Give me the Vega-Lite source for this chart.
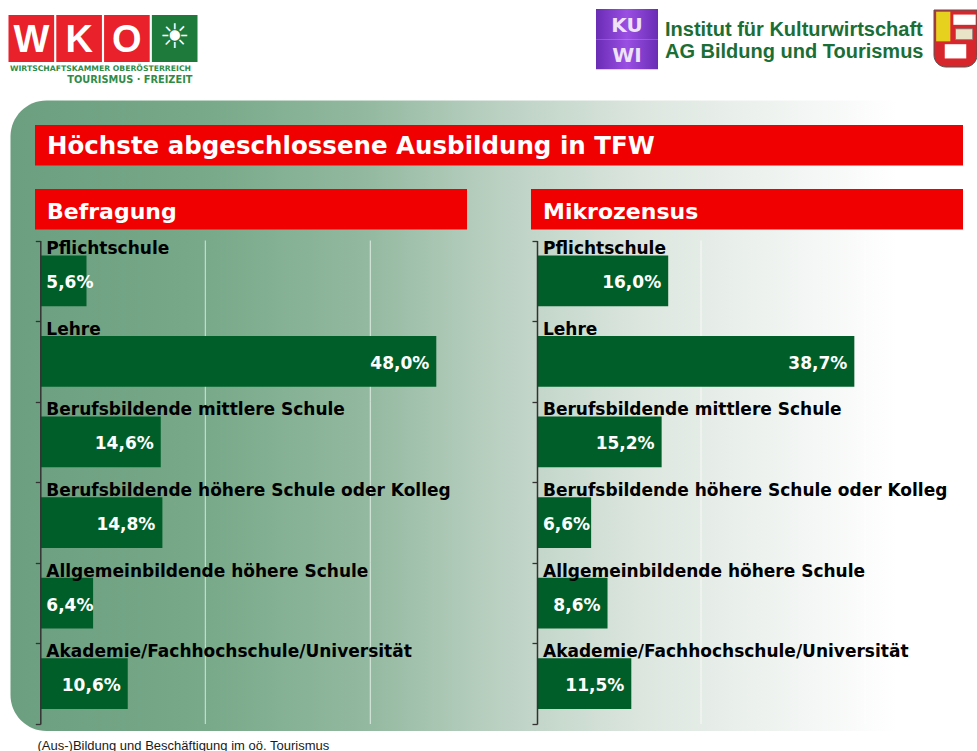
{
  "$schema": "https://vega.github.io/schema/vega-lite/v6.json",
  "width": 977,
  "height": 751,
  "padding": 0,
  "autosize": {"type": "none"},
  "background": "#ffffff",
  "config": {
    "view": {"stroke": null},
    "locale": {"number": {"decimal": ",", "thousands": ".", "grouping": [3], "currency": ["", " €"]}}
  },
  "datasets": {
    "edu": [
      {"panel": "Befragung", "category": "Pflichtschule", "value": 0.056},
      {"panel": "Befragung", "category": "Lehre", "value": 0.48},
      {"panel": "Befragung", "category": "Berufsbildende mittlere Schule", "value": 0.146},
      {"panel": "Befragung", "category": "Berufsbildende höhere Schule oder Kolleg", "value": 0.148},
      {"panel": "Befragung", "category": "Allgemeinbildende höhere Schule", "value": 0.064},
      {"panel": "Befragung", "category": "Akademie/Fachhochschule/Universität", "value": 0.106},
      {"panel": "Mikrozensus", "category": "Pflichtschule", "value": 0.16},
      {"panel": "Mikrozensus", "category": "Lehre", "value": 0.387},
      {"panel": "Mikrozensus", "category": "Berufsbildende mittlere Schule", "value": 0.152},
      {"panel": "Mikrozensus", "category": "Berufsbildende höhere Schule oder Kolleg", "value": 0.066},
      {"panel": "Mikrozensus", "category": "Allgemeinbildende höhere Schule", "value": 0.086},
      {"panel": "Mikrozensus", "category": "Akademie/Fachhochschule/Universität", "value": 0.115}
    ]
  },
  "resolve": {"scale": {"x": "independent", "y": "independent", "color": "independent"}},
  "layer": [
    {
      "data": {"values": [{"part": "panel"}]},
      "mark": {"type": "rect", "cornerRadius": 36, "fill": {"gradient": "linear", "x1": 0, "y1": 0, "x2": 1, "y2": 0, "stops": [
        {"offset": 0, "color": "#6b9f7f"},
        {"offset": 0.2, "color": "#79aa8a"},
        {"offset": 0.35, "color": "#93b9a0"},
        {"offset": 0.47, "color": "#b8cfc0"},
        {"offset": 0.62, "color": "#dce6df"},
        {"offset": 0.78, "color": "#f3f6f4"},
        {"offset": 0.87, "color": "#ffffff"},
        {"offset": 1, "color": "#ffffff"}
      ]}},
      "encoding": {
        "x": {"datum": 0, "type": "quantitative", "scale": {"domain": [0, 1], "range": [10.5, 1030], "nice": false}, "axis": null},
        "x2": {"datum": 1},
        "y": {"datum": 0, "type": "quantitative", "scale": {"domain": [0, 1], "range": [100.5, 731], "nice": false}, "axis": null},
        "y2": {"datum": 1}
      }
    },
    {
      "data": {"values": [{"panel": "Befragung"}, {"panel": "Mikrozensus"}]},
      "layer": [
        {
          "mark": {"type": "rect", "color": "#f00000"},
          "encoding": {
            "x": {"field": "panel", "type": "nominal", "scale": {"type": "band", "range": [35, 963], "paddingInner": 0, "paddingOuter": 0}, "axis": null},
            "y": {"datum": "title", "type": "nominal", "scale": {"type": "band", "domain": ["title"], "range": [125, 165.5], "paddingInner": 0, "paddingOuter": 0}, "axis": null}
          }
        },
        {
          "data": {"values": [{"title": "Höchste abgeschlossene Ausbildung in TFW"}]},
          "mark": {"type": "text", "align": "left", "baseline": "alphabetic", "dx": 12, "dy": 9, "font": "DejaVu Sans", "fontWeight": "bold", "fontSize": 24.5, "color": "#ffffff"},
          "encoding": {
            "x": {"datum": "Befragung", "type": "nominal", "bandPosition": 0, "axis": null},
            "y": {"datum": "title", "type": "nominal", "axis": null},
            "text": {"field": "title"}
          }
        }
      ]
    },
    {
      "data": {"values": [{"panel": "Befragung"}, {"panel": "Mikrozensus"}]},
      "layer": [
        {
          "mark": {"type": "rect", "color": "#f00000"},
          "encoding": {
            "x": {"field": "panel", "type": "nominal", "scale": {"type": "band", "range": [35, 963], "paddingInner": 0.129, "paddingOuter": 0}, "axis": null},
            "y": {"datum": "header", "type": "nominal", "scale": {"type": "band", "domain": ["header"], "range": [189, 229.5], "paddingInner": 0, "paddingOuter": 0}, "axis": null}
          }
        },
        {
          "mark": {"type": "text", "align": "left", "baseline": "alphabetic", "dx": 12, "dy": 10, "font": "DejaVu Sans", "fontWeight": "bold", "fontSize": 22, "color": "#ffffff"},
          "encoding": {
            "x": {"field": "panel", "type": "nominal", "bandPosition": 0, "axis": null},
            "y": {"datum": "header", "type": "nominal", "axis": null},
            "text": {"field": "panel"}
          }
        }
      ]
    },
    {
      "data": {"name": "edu"},
      "transform": [{"filter": "datum.panel === 'Befragung'"}],
      "encoding": {
        "y": {"field": "category", "type": "nominal", "sort": null,
          "scale": {"domain": ["Pflichtschule", "Lehre", "Berufsbildende mittlere Schule", "Berufsbildende höhere Schule oder Kolleg", "Allgemeinbildende höhere Schule", "Akademie/Fachhochschule/Universität"], "range": [240.5, 724], "paddingInner": 0, "paddingOuter": 0},
          "axis": {"orient": "left", "offset": -40.3, "labels": false, "title": null, "grid": false, "tickBand": "extent", "ticks": true, "tickSize": 5, "tickWidth": 1.3, "tickColor": "#333333", "domain": true, "domainColor": "#333333", "domainWidth": 1.5, "zindex": 1}}
      },
      "layer": [
        {
          "mark": {"type": "tick", "color": "#ffffff", "thickness": 1, "size": 80.6},
          "encoding": {"x": {"datum": 0.2, "type": "quantitative", "axis": null}}
        },
        {
          "mark": {"type": "tick", "color": "#ffffff", "thickness": 1, "size": 80.6},
          "encoding": {"x": {"datum": 0.4, "type": "quantitative", "axis": null}}
        },
        {
          "mark": {"type": "bar", "color": "#005f29", "height": {"band": 0.63}},
          "encoding": {
            "x": {"field": "value", "type": "quantitative", "scale": {"domain": [0, 0.5], "range": [40.3, 452.8], "nice": false, "zero": true}, "axis": null}
          }
        },
        {
          "mark": {"type": "text", "align": "left", "baseline": "alphabetic", "dx": 6, "dy": -26.5, "font": "DejaVu Sans", "fontWeight": "bold", "fontSize": 17, "color": "#000000"},
          "encoding": {
            "x": {"datum": 0, "type": "quantitative", "axis": null},
            "text": {"field": "category"}
          }
        },
        {
          "transform": [{"filter": "datum.value >= 0.07"}],
          "mark": {"type": "text", "align": "right", "baseline": "alphabetic", "dx": -7, "dy": 7.5, "font": "DejaVu Sans", "fontWeight": "bold", "fontSize": 17, "color": "#ffffff"},
          "encoding": {
            "x": {"field": "value", "type": "quantitative", "axis": null},
            "text": {"field": "value", "type": "quantitative", "format": ".1%"}
          }
        },
        {
          "transform": [{"filter": "datum.value < 0.07"}],
          "mark": {"type": "text", "align": "left", "baseline": "alphabetic", "dx": 6, "dy": 7.5, "font": "DejaVu Sans", "fontWeight": "bold", "fontSize": 17, "color": "#ffffff"},
          "encoding": {
            "x": {"datum": 0, "type": "quantitative", "axis": null},
            "text": {"field": "value", "type": "quantitative", "format": ".1%"}
          }
        }
      ]
    },
    {
      "data": {"name": "edu"},
      "transform": [{"filter": "datum.panel === 'Mikrozensus'"}],
      "encoding": {
        "y": {"field": "category", "type": "nominal", "sort": null,
          "scale": {"domain": ["Pflichtschule", "Lehre", "Berufsbildende mittlere Schule", "Berufsbildende höhere Schule oder Kolleg", "Allgemeinbildende höhere Schule", "Akademie/Fachhochschule/Universität"], "range": [240.5, 724], "paddingInner": 0, "paddingOuter": 0},
          "axis": {"orient": "left", "offset": -537, "labels": false, "title": null, "grid": false, "tickBand": "extent", "ticks": true, "tickSize": 5, "tickWidth": 1.3, "tickColor": "#333333", "domain": true, "domainColor": "#333333", "domainWidth": 1.5, "zindex": 1}}
      },
      "layer": [
        {
          "mark": {"type": "tick", "color": "#ffffff", "thickness": 1, "size": 80.6},
          "encoding": {"x": {"datum": 0.2, "type": "quantitative", "axis": null}}
        },
        {
          "mark": {"type": "tick", "color": "#ffffff", "thickness": 1, "size": 80.6},
          "encoding": {"x": {"datum": 0.4, "type": "quantitative", "axis": null}}
        },
        {
          "mark": {"type": "bar", "color": "#005f29", "height": {"band": 0.63}},
          "encoding": {
            "x": {"field": "value", "type": "quantitative", "scale": {"domain": [0, 0.5], "range": [537, 947], "nice": false, "zero": true}, "axis": null}
          }
        },
        {
          "mark": {"type": "text", "align": "left", "baseline": "alphabetic", "dx": 6, "dy": -26.5, "font": "DejaVu Sans", "fontWeight": "bold", "fontSize": 17, "color": "#000000"},
          "encoding": {
            "x": {"datum": 0, "type": "quantitative", "axis": null},
            "text": {"field": "category"}
          }
        },
        {
          "transform": [{"filter": "datum.value >= 0.07"}],
          "mark": {"type": "text", "align": "right", "baseline": "alphabetic", "dx": -7, "dy": 7.5, "font": "DejaVu Sans", "fontWeight": "bold", "fontSize": 17, "color": "#ffffff"},
          "encoding": {
            "x": {"field": "value", "type": "quantitative", "axis": null},
            "text": {"field": "value", "type": "quantitative", "format": ".1%"}
          }
        },
        {
          "transform": [{"filter": "datum.value < 0.07"}],
          "mark": {"type": "text", "align": "left", "baseline": "alphabetic", "dx": 6, "dy": 7.5, "font": "DejaVu Sans", "fontWeight": "bold", "fontSize": 17, "color": "#ffffff"},
          "encoding": {
            "x": {"datum": 0, "type": "quantitative", "axis": null},
            "text": {"field": "value", "type": "quantitative", "format": ".1%"}
          }
        }
      ]
    },
    {
      "data": {"values": [{"letter": "W"}, {"letter": "K"}, {"letter": "O"}, {"letter": "sun"}]},
      "layer": [
        {
          "mark": {"type": "rect"},
          "encoding": {
            "x": {"field": "letter", "type": "nominal", "sort": null, "scale": {"type": "band", "domain": ["W", "K", "O", "sun"], "range": [8.5, 197.5], "paddingInner": 0.045, "paddingOuter": 0}, "axis": null},
            "y": {"datum": "logo", "type": "nominal", "scale": {"type": "band", "domain": ["logo"], "range": [15, 62], "paddingInner": 0, "paddingOuter": 0}, "axis": null},
            "color": {"field": "letter", "type": "nominal", "scale": {"domain": ["W", "K", "O", "sun"], "range": ["#e8212b", "#e8212b", "#e8212b", "#1d7a3b"]}, "legend": null}
          }
        },
        {
          "transform": [{"filter": "datum.letter !== 'sun'"}],
          "mark": {"type": "text", "align": "center", "baseline": "alphabetic", "dy": 13, "font": "Liberation Sans", "fontWeight": "bold", "fontSize": 38, "color": "#ffffff"},
          "encoding": {
            "x": {"field": "letter", "type": "nominal", "sort": null, "axis": null},
            "y": {"datum": "logo", "type": "nominal", "axis": null},
            "text": {"field": "letter"}
          }
        },
        {
          "transform": [{"filter": "datum.letter === 'sun'"}],
          "mark": {"type": "text", "align": "center", "baseline": "middle", "dy": -1, "font": "DejaVu Sans", "fontSize": 34, "color": "#ffffff"},
          "encoding": {
            "x": {"field": "letter", "type": "nominal", "sort": null, "axis": null},
            "y": {"datum": "logo", "type": "nominal", "axis": null},
            "text": {"value": "☀"}
          }
        },
        {
          "data": {"values": [{"t": "WIRTSCHAFTSKAMMER OBERÖSTERREICH"}]},
          "mark": {"type": "text", "align": "left", "baseline": "alphabetic", "dx": 1.5, "dy": 8.7, "font": "DejaVu Sans", "fontWeight": "bold", "fontSize": 7.7, "color": "#2f8c47"},
          "encoding": {
            "x": {"datum": "W", "type": "nominal", "bandPosition": 0, "axis": null},
            "y": {"datum": "logo", "type": "nominal", "bandPosition": 1, "axis": null},
            "text": {"field": "t"}
          }
        },
        {
          "data": {"values": [{"t": "TOURISMUS · FREIZEIT"}]},
          "mark": {"type": "text", "align": "right", "baseline": "alphabetic", "dx": -5, "dy": 21, "font": "DejaVu Sans", "fontWeight": "bold", "fontSize": 9.8, "color": "#2f8c47"},
          "encoding": {
            "x": {"datum": "sun", "type": "nominal", "bandPosition": 1, "axis": null},
            "y": {"datum": "logo", "type": "nominal", "bandPosition": 1, "axis": null},
            "text": {"field": "t"}
          }
        }
      ]
    },
    {
      "data": {"values": [{"t": "KU"}, {"t": "WI"}]},
      "layer": [
        {
          "mark": {"type": "rect", "fill": {"gradient": "linear", "x1": 0, "y1": 0, "x2": 1, "y2": 0, "stops": [
            {"offset": 0, "color": "#6a2cb5"},
            {"offset": 0.5, "color": "#9a4fe3"},
            {"offset": 1, "color": "#6a2cb5"}
          ]}},
          "encoding": {
            "x": {"datum": 0, "type": "quantitative", "scale": {"domain": [0, 1], "range": [596, 658], "nice": false}, "axis": null},
            "x2": {"datum": 1},
            "y": {"field": "t", "type": "nominal", "sort": null, "scale": {"type": "band", "domain": ["KU", "WI"], "range": [9, 69.3], "paddingInner": 0, "paddingOuter": 0}, "axis": null}
          }
        },
        {
          "mark": {"type": "text", "align": "center", "baseline": "alphabetic", "dy": 8, "font": "DejaVu Sans", "fontWeight": "bold", "fontSize": 20, "color": "#efe3f7"},
          "encoding": {
            "x": {"datum": 0.5, "type": "quantitative", "axis": null},
            "y": {"field": "t", "type": "nominal", "sort": null, "axis": null},
            "text": {"field": "t"}
          }
        }
      ]
    },
    {
      "data": {"values": [{"line": "Institut für Kulturwirtschaft"}, {"line": "AG Bildung und Tourismus"}]},
      "mark": {"type": "text", "align": "left", "baseline": "alphabetic", "dy": 10.5, "font": "Liberation Sans", "fontWeight": "bold", "fontSize": 20, "color": "#1b6e35"},
      "encoding": {
        "x": {"datum": 0, "type": "quantitative", "scale": {"domain": [0, 1], "range": [665, 925], "nice": false}, "axis": null},
        "y": {"field": "line", "type": "nominal", "sort": null, "scale": {"type": "band", "range": [14, 58], "paddingInner": 0, "paddingOuter": 0}, "axis": null},
        "text": {"field": "line"}
      }
    },
    {
      "data": {"values": [{"part": "shield"}]},
      "layer": [
        {
          "mark": {"type": "rect", "color": "#d7262c", "stroke": "#555555", "strokeWidth": 1, "cornerRadiusBottomLeft": 12, "cornerRadiusBottomRight": 12},
          "encoding": {
            "x": {"datum": 0, "type": "quantitative", "scale": {"domain": [0, 1], "range": [934, 977], "nice": false}, "axis": null},
            "x2": {"datum": 1},
            "y": {"datum": 0, "type": "quantitative", "scale": {"domain": [0, 1], "range": [10, 67], "nice": false}, "axis": null},
            "y2": {"datum": 1}
          }
        },
        {
          "mark": {"type": "rect", "color": "#e6d21e"},
          "encoding": {
            "x": {"datum": 0.05, "type": "quantitative", "axis": null},
            "x2": {"datum": 0.38},
            "y": {"datum": 0.03, "type": "quantitative", "axis": null},
            "y2": {"datum": 0.55}
          }
        },
        {
          "mark": {"type": "rect", "color": "#ffffff"},
          "encoding": {
            "x": {"datum": 0.45, "type": "quantitative", "axis": null},
            "x2": {"datum": 0.97},
            "y": {"datum": 0.08, "type": "quantitative", "axis": null},
            "y2": {"datum": 0.26}
          }
        },
        {
          "mark": {"type": "rect", "color": "#e9e4c8", "stroke": "#777777", "strokeWidth": 0.8},
          "encoding": {
            "x": {"datum": 0.5, "type": "quantitative", "axis": null},
            "x2": {"datum": 0.9},
            "y": {"datum": 0.33, "type": "quantitative", "axis": null},
            "y2": {"datum": 0.52}
          }
        },
        {
          "mark": {"type": "rect", "color": "#ffffff"},
          "encoding": {
            "x": {"datum": 0.25, "type": "quantitative", "axis": null},
            "x2": {"datum": 0.75},
            "y": {"datum": 0.6, "type": "quantitative", "axis": null},
            "y2": {"datum": 0.85}
          }
        }
      ]
    },
    {
      "data": {"values": [{"note": "(Aus-)Bildung und Beschäftigung im oö. Tourismus"}]},
      "mark": {"type": "text", "align": "left", "baseline": "alphabetic", "font": "Liberation Sans", "fontSize": 13, "color": "#1a1a1a"},
      "encoding": {
        "x": {"datum": 0, "type": "quantitative", "scale": {"domain": [0, 1], "range": [37.5, 400], "nice": false}, "axis": null},
        "y": {"datum": 0, "type": "quantitative", "scale": {"domain": [0, 1], "range": [749.5, 760], "nice": false}, "axis": null},
        "text": {"field": "note"}
      }
    }
  ]
}
